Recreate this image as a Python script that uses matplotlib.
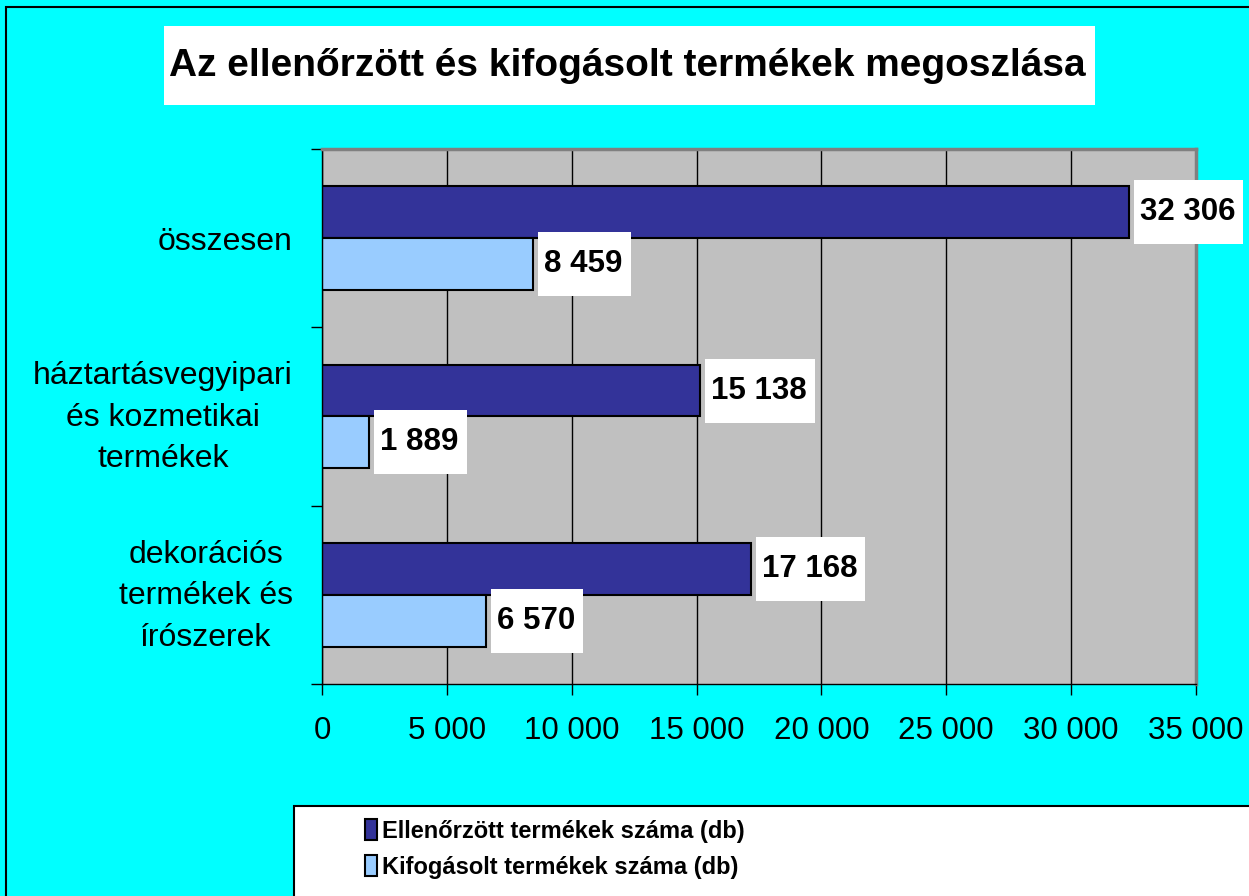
import matplotlib.pyplot as plt
from matplotlib.patches import Rectangle, Patch
from matplotlib.transforms import IdentityTransform, ScaledTranslation
from matplotlib.ticker import FixedLocator
import numpy as np

plt.rcParams['font.family'] = ['Liberation Sans', 'DejaVu Sans']

categories = ['összesen',
              'háztartásvegyipari\nés kozmetikai\ntermékek',
              'dekorációs\ntermékek és\nírószerek']
ellenorzott = [32306, 15138, 17168]
kifogasolt = [8459, 1889, 6570]
series_names = ['Ellenőrzött termékek száma (db)', 'Kifogásolt termékek száma (db)']
xticks = [0, 5000, 10000, 15000, 20000, 25000, 30000, 35000]

dark = '#333399'
light = '#99CCFF'

fig = plt.figure(figsize=(12.49, 8.96), dpi=100, facecolor='#00FFFF')
ax = fig.add_axes([322 / 1249, 1 - 684 / 896, (1196 - 322) / 1249, (684 - 149) / 896])
ax.set_facecolor('#C0C0C0')

y = np.arange(len(categories))[::-1]
h = 0.29
ax.barh(y + h / 2, ellenorzott, height=h, color=dark, edgecolor='black', linewidth=1.5, zorder=2)
ax.barh(y - h / 2, kifogasolt, height=h, color=light, edgecolor='black', linewidth=1.5, zorder=2)

ax.set_xlim(0, 35000)
ax.set_ylim(-0.5, 2.5)
ax.set_xticks(xticks)
ax.set_xticklabels([f'{v:,}'.replace(',', ' ') for v in xticks], fontsize=22.5)
ax.set_yticks(y)
ax.set_yticklabels(categories, fontsize=23, multialignment='center', linespacing=1.5)
ax.yaxis.set_minor_locator(FixedLocator([-0.5, 0.5, 1.5, 2.5]))
ax.tick_params(axis='y', which='major', length=0, pad=21)
ax.tick_params(axis='y', which='minor', length=8, width=1, direction='out')
ax.tick_params(axis='x', which='major', length=8, width=1, direction='out', pad=15)
ax.grid(axis='x', color='black', linewidth=1)
ax.set_axisbelow(True)
for s in ['top', 'right']:
    ax.spines[s].set_color('#808080')
    ax.spines[s].set_linewidth(2.5)
for s in ['left', 'bottom']:
    ax.spines[s].set_color('black')
    ax.spines[s].set_linewidth(1)

# nudge the three-line labels up a little
shift = ScaledTranslation(0, 8 / 100, fig.dpi_scale_trans)
for lab in ax.get_yticklabels():
    if '\n' in lab.get_text():
        lab.set_transform(lab.get_transform() + shift)

# value labels
texts = []
for vals, off in [(ellenorzott, h / 2), (kifogasolt, -h / 2)]:
    for v, yy in zip(vals, y):
        t = ax.annotate(f'{v:,}'.replace(',', ' '), xy=(v, yy + off), xytext=(11, 0),
                        textcoords='offset pixels', ha='left', va='center',
                        fontsize=22.5, fontweight='bold', zorder=5, annotation_clip=False)
        texts.append((t, yy + off))

# title box
fig.patches.append(Rectangle((164 / 1249, 1 - 105 / 896), 931 / 1249, 79 / 896,
                             transform=fig.transFigure, facecolor='white', edgecolor='none'))
fig.text(627 / 1249, 1 - 66 / 896, 'Az ellenőrzött és kifogásolt termékek megoszlása',
         ha='center', va='center', fontsize=28, fontweight='bold')

# outer border and legend box
fig.patches.append(Rectangle((6 / 1249, -0.1), 2, 1 - 7 / 896 + 0.1, transform=fig.transFigure,
                             facecolor='none', edgecolor='black', linewidth=1.5))
fig.patches.append(Rectangle((294 / 1249, -0.1), 2, 1 - 806 / 896 + 0.1, transform=fig.transFigure,
                             facecolor='white', edgecolor='black', linewidth=1.5))

handles = [Patch(facecolor=dark, edgecolor='black', linewidth=1.5),
           Patch(facecolor=light, edgecolor='black', linewidth=1.5)]
leg = fig.legend(handles, series_names, loc='center', bbox_to_anchor=(555 / 1249, 1 - 849 / 896),
                 frameon=False, handlelength=0.52, handleheight=0.95, handletextpad=0.2,
                 labelspacing=0.55, prop={'weight': 'bold', 'size': 17})

fig.canvas.draw()
r = fig.canvas.get_renderer()
for t, yc in texts:
    bb = t.get_window_extent(r)
    ycd = ax.transData.transform((0, yc))[1]
    ax.add_patch(Rectangle((bb.x0 - 6, ycd - 32), bb.width + 14, 64, transform=IdentityTransform(),
                           facecolor='white', edgecolor='none', zorder=4, clip_on=False))

fig.savefig('out.png', dpi=100, facecolor=fig.get_facecolor())
